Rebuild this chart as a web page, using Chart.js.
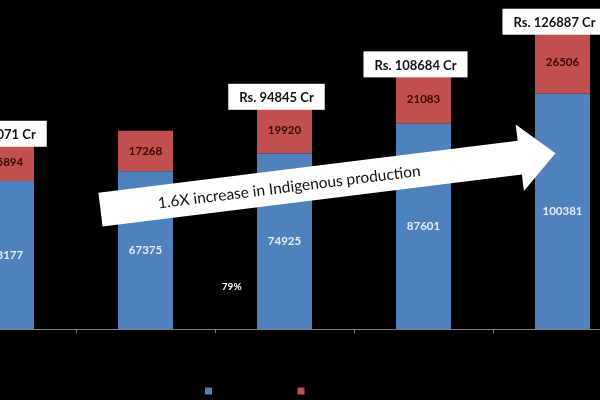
<!DOCTYPE html>
<html><head><meta charset="utf-8">
<script src="https://cdn.jsdelivr.net/npm/chart.js@4/dist/chart.umd.min.js"></script>
<style>
html,body{margin:0;padding:0;background:#000;overflow:hidden;width:600px;height:400px;}
#wrap{position:absolute;left:-63px;top:0;width:695px;height:400px;}
</style></head><body>
<div id="wrap"><canvas id="c"></canvas></div>
<script>
const categories = ['2019-20', '2020-21', '2021-22', '2022-23', '2023-24'];
const publicSector = [63177, 67375, 74925, 87601, 100381];
const privateSector = [15894, 17268, 19920, 21083, 26506];
const showTotal = [true, false, true, true, true];
const arrowText = '1.6X increase in Indigenous production';
const noteText = '79%';
const seriesNames = ['DPSUs / Public Sector', 'Private Sector'];

const BLUE = '#4f81bd', RED = '#c0504d';

const segmentLabels = {
  id: 'segmentLabels',
  afterDatasetsDraw(chart) {
    const ctx = chart.ctx;
    ctx.save();
    ctx.textAlign = 'center';
    ctx.textBaseline = 'middle';
    ctx.font = 'bold 11.5px Lato';
    chart.data.datasets.forEach((ds, di) => {
      const meta = chart.getDatasetMeta(di);
      meta.data.forEach((el, i) => {
        ctx.fillStyle = di === 0 ? '#e4ecf7' : '#3a0606';
        ctx.fillText(String(ds.data[i]), el.x, (el.y + el.base) / 2);
      });
    });
    ctx.restore();
  }
};

const overlays = {
  id: 'overlays',
  afterDraw(chart) {
    const ctx = chart.ctx;
    const xs = chart.scales.x, ys = chart.scales.y;
    ctx.save();
    // arrow
    const sx = xs.getPixelForValue(1) - 45, sy = ys.getPixelForValue(51000);
    const ex = xs.getPixelForValue(4) - 7, ey = ys.getPixelForValue(75000);
    const L = Math.hypot(ex - sx, ey - sy), ang = Math.atan2(ey - sy, ex - sx);
    ctx.translate(sx, sy);
    ctx.rotate(ang);
    ctx.beginPath();
    ctx.moveTo(0, -17);
    ctx.lineTo(L - 36, -17);
    ctx.lineTo(L - 36, -33.5);
    ctx.lineTo(L, 0);
    ctx.lineTo(L - 36, 33.5);
    ctx.lineTo(L - 36, 17);
    ctx.lineTo(0, 17);
    ctx.closePath();
    ctx.fillStyle = '#ffffff';
    ctx.fill();
    ctx.fillStyle = '#111';
    ctx.font = '15.5px Lato';
    ctx.textAlign = 'center';
    ctx.textBaseline = 'middle';
    ctx.fillText(arrowText, 190, 1);
    ctx.setTransform(1, 0, 0, 1, 0, 0);
    // total boxes
    const m0 = chart.getDatasetMeta(1);
    ctx.font = 'bold 13px Lato';
    m0.data.forEach((el, i) => {
      if (!showTotal[i]) return;
      const total = publicSector[i] + privateSector[i];
      const txt = 'Rs. ' + total + ' Cr';
      const tw = ctx.measureText(txt).width;
      const w = tw + 22, h = 26;
      const cx = el.x - 8, cy = el.y - 10;
      ctx.fillStyle = '#ffffff';
      ctx.fillRect(cx - w / 2, cy - h / 2, w, h);
      ctx.fillStyle = '#111';
      ctx.fillText(txt, cx, cy + 1);
    });
    // note
    ctx.font = 'bold 10px Lato';
    ctx.fillStyle = '#ffffff';
    ctx.fillText(noteText, xs.getPixelForValue(1.62), ys.getPixelForValue(17900));
    // legend squares
    const cxL = chart.width / 2;
    [[-76, BLUE], [16.5, RED]].forEach(([dx, col]) => {
      ctx.fillStyle = col;
      ctx.fillRect(cxL + dx - 3.5, 387.5, 7, 7);
    });
    ctx.restore();
  }
};

new Chart(document.getElementById('c'), {
  type: 'bar',
  data: {
    labels: categories,
    datasets: [
      { label: seriesNames[0], data: publicSector, backgroundColor: BLUE },
      { label: seriesNames[1], data: privateSector, backgroundColor: RED }
    ]
  },
  options: {
    responsive: true,
    maintainAspectRatio: false,
    animation: false,
    layout: { padding: { top: 1, bottom: 67, left: 0, right: 0 } },
    plugins: { legend: { display: false }, tooltip: { enabled: false } },
    datasets: { bar: { categoryPercentage: 1, barPercentage: 0.396 } },
    scales: {
      x: {
        stacked: true,
        grid: { offset: true, drawOnChartArea: false, drawTicks: true, tickLength: 4, color: '#7f7f7f' },
        border: { color: '#7f7f7f' },
        ticks: { display: false }
      },
      y: { stacked: true, display: false, min: 0, max: 140000 }
    }
  },
  plugins: [segmentLabels, overlays]
});
</script>
</body></html>
